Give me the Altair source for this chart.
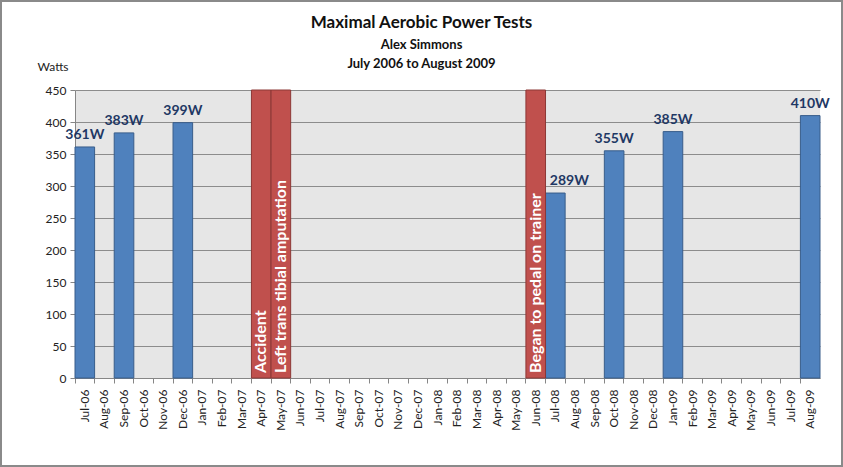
import altair as alt
import pandas as pd

months = ["Jul-06", "Aug-06", "Sep-06", "Oct-06", "Nov-06", "Dec-06",
          "Jan-07", "Feb-07", "Mar-07", "Apr-07", "May-07", "Jun-07",
          "Jul-07", "Aug-07", "Sep-07", "Oct-07", "Nov-07", "Dec-07",
          "Jan-08", "Feb-08", "Mar-08", "Apr-08", "May-08", "Jun-08",
          "Jul-08", "Aug-08", "Sep-08", "Oct-08", "Nov-08", "Dec-08",
          "Jan-09", "Feb-09", "Mar-09", "Apr-09", "May-09", "Jun-09",
          "Jul-09", "Aug-09"]

test_months = ["Jul-06", "Sep-06", "Dec-06", "Jul-08", "Oct-08", "Jan-09", "Aug-09"]
test_watts = [361, 383, 399, 289, 355, 385, 410]

event_months = ["Apr-07", "May-07", "Jun-08"]
event_labels = ["Accident", "Left trans tibial amputation", "Began to pedal on trainer"]
event_level = [450, 450, 450]

y_ticks = [0, 50, 100, 150, 200, 250, 300, 350, 400, 450]

tests = pd.DataFrame({"month": test_months, "watts": test_watts,
                      "label": [f"{w}W" for w in test_watts]})
events = pd.DataFrame({"month": event_months, "watts": event_level, "label": event_labels})

FONT = "Lato"

x_axis = alt.Axis(
    title=None,
    labelAngle=-90,
    labelAlign="right",
    labelBaseline="middle",
    labelFont=FONT,
    labelFontSize=12,
    labelColor="#222222",
    labelPadding=6,
    bandPosition=0,
    ticks=True,
    tickSize=5,
    tickColor="#868686",
    domainColor="#868686",
    grid=False,
    labelOverlap=False,
)

y_axis = alt.Axis(
    values=y_ticks,
    title="Watts",
    titleAngle=0,
    titleAlign="left",
    titleBaseline="middle",
    titleX=-38,
    titleY=-24,
    titleFont=FONT,
    titleFontWeight="normal",
    titleFontSize=12,
    titleColor="#222222",
    labelFont=FONT,
    labelFontSize=12,
    labelColor="#222222",
    labelPadding=4,
    labelOverlap=False,
    tickSize=5,
    tickColor="#868686",
    domainColor="#868686",
    grid=True,
    gridColor="#8C8C8C",
    gridWidth=1,
)

x_scale = alt.Scale(domain=months, paddingInner=0, paddingOuter=0)
y_scale = alt.Scale(domain=[0, 450], nice=False, zero=True)

x_enc = alt.X("month:N", sort=months, scale=x_scale, axis=x_axis)
y_enc = alt.Y("watts:Q", scale=y_scale, axis=y_axis)
y_base = alt.Y("base:Q", scale=y_scale, axis=y_axis)

test_bars = alt.Chart(tests).mark_bar(
    color="#4F81BD", stroke="#385D8A", strokeWidth=1
).encode(x=x_enc, y=y_enc)

event_bars = alt.Chart(events).mark_bar(
    color="#C0504D", stroke="#8C3836", strokeWidth=1
).encode(x=x_enc, y=y_enc)

label_style = dict(font=FONT, fontSize=14, fontWeight="bold", color="#1F3864",
                   baseline="bottom", dy=-5)

test_labels = alt.Chart(tests).transform_filter(
    "datum.month != 'Jul-08'"
).mark_text(**label_style).encode(x=x_enc, y=y_enc, text="label:N")

test_labels_shift = alt.Chart(tests).transform_filter(
    "datum.month == 'Jul-08'"
).mark_text(dx=14, **label_style).encode(x=x_enc, y=y_enc, text="label:N")

event_text = alt.Chart(events).transform_calculate(base="0").mark_text(
    font=FONT, fontSize=16, fontWeight="bold", color="white",
    angle=270, align="left", baseline="middle", dx=5
).encode(x=x_enc, y=y_base, text="label:N")

border = alt.Chart(pd.DataFrame({"a": [0]})).mark_rect(
    fill="transparent", stroke="#8A8A8A", strokeWidth=2
).encode(
    x=alt.value(-74), x2=alt.value(767), y=alt.value(-89), y2=alt.value(376)
)

chart = alt.layer(
    test_bars, event_bars, test_labels, test_labels_shift, event_text, border
).properties(
    width=745,
    height=288,
    autosize=alt.AutoSizeParams(type="none"),
    padding={"left": 75, "top": 90, "right": 23, "bottom": 89},
    background="white",
    title=alt.TitleParams(
        text="Maximal Aerobic Power Tests",
        subtitle=["Alex Simmons", "July 2006 to August 2009"],
        anchor="middle",
        dx=-26,
        font=FONT,
        fontSize=17,
        fontWeight="bold",
        color="#111111",
        subtitleFont=FONT,
        subtitleFontSize=13,
        subtitleFontWeight="bold",
        subtitleColor="#111111",
        subtitleLineHeight=19,
        subtitlePadding=7,
        offset=-72,
    ),
).configure_view(fill="#E6E6E6", stroke=None)

chart.save("out.html", embed_options={"renderer": "svg", "actions": False})
